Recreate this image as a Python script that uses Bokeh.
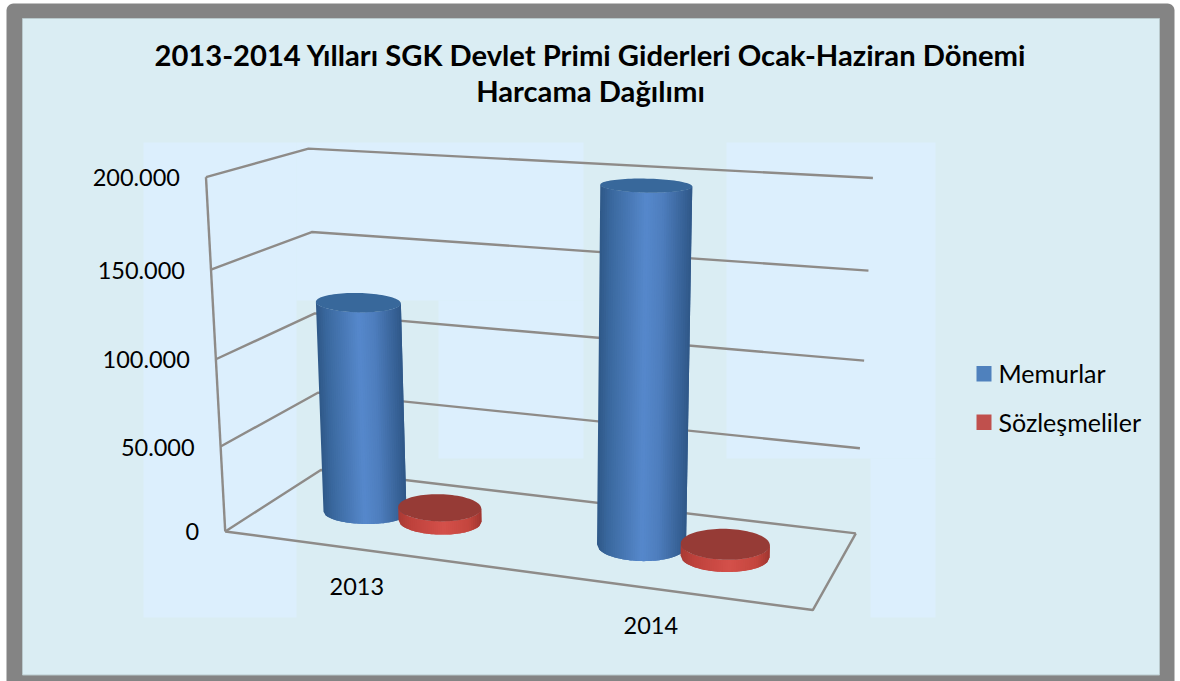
import numpy as np
from bokeh.core.properties import value
from bokeh.embed import file_html
from bokeh.models import Range1d
from bokeh.plotting import figure
from bokeh.resources import INLINE

# ---- chart data -------------------------------------------------------
categories = ["2013", "2014"]
series_names = ["Memurlar", "Sözleşmeliler"]
memurlar = [124500, 199000]
sozlesmeliler = [8000, 7000]
tick_values = [0, 50000, 100000, 150000, 200000]
tick_labels = ["0", "50.000", "100.000", "150.000", "200.000"]
title_lines = ["2013-2014 Yılları SGK Devlet Primi Giderleri Ocak-Haziran Dönemi",
               "Harcama Dağılımı"]
VMAX = 200000.0

# ---- camera calibration: box corners (u, depth, value fraction) -> screen
calib = [
    (0, 0, 1.00, 206, 176), (0, 0, .75, 211, 269.5), (0, 0, .5, 216, 358.5), (0, 0, .25, 220, 446), (0, 0, 0, 223.5, 531),
    (0, 1, 1.00, 307.5, 148), (0, 1, .75, 310.5, 232), (0, 1, .5, 314, 312.7), (0, 1, .25, 318, 393), (0, 1, 0, 321, 469),
    (1, 1, 1.00, 872, 177), (1, 1, .75, 868, 271), (1, 1, .5, 864, 360), (1, 1, .25, 860, 448), (1, 1, 0, 855, 532),
    (1, 0, 0, 812, 610),
]
A = []
for u, d, v, sx, sy in calib:
    A.append([u, d, v, 1, 0, 0, 0, 0, -sx * u, -sx * d, -sx * v, -sx])
    A.append([0, 0, 0, 0, u, d, v, 1, -sy * u, -sy * d, -sy * v, -sy])
P = np.linalg.svd(np.array(A, float))[2][-1].reshape(3, 4)


def project(u, d, val):
    q = P @ np.array([u, d, val / VMAX, 1.0])
    return q[0] / q[2], q[1] / q[2]


def unproject_floor(sx, sy):
    q = np.linalg.solve(P[:, [0, 1, 3]], np.array([sx, sy, 1.0]))
    return q[0] / q[2], q[1] / q[2]


# ---- page -------------------------------------------------------------
p = figure(width=1180, height=681, x_range=Range1d(0, 1180), y_range=Range1d(681, 0),
           x_axis_location=None, y_axis_location=None, toolbar_location=None,
           output_backend="svg", min_border=0, margin=(0, 0, 0, 0),
           background_fill_color="white", border_fill_color="white", outline_line_color=None)
p.grid.visible = False


def rounded(l, r, t, b, rad):
    xs, ys = [], []
    for cx, cy, a0 in [(l + rad, t + rad, 180), (r - rad, t + rad, 270), (r - rad, b - rad, 0), (l + rad, b - rad, 90)]:
        a = np.radians(np.linspace(a0, a0 + 90, 8))
        xs += list(cx + rad * np.cos(a))
        ys += list(cy + rad * np.sin(a))
    return xs, ys


fx, fy = rounded(6, 1174, 3, 700, 7)
p.patch(fx, fy, fill_color="#848484", line_color=None)
p.quad(left=[22], right=[1159], top=[18], bottom=[674.5], fill_color="#daedf3", line_color="#b9c9cc", line_width=1)

LIGHT = "#dceffd"
p.quad(left=[143, 296, 438, 726, 870], right=[296, 583, 583, 935, 935],
       top=[142, 142, 300, 142, 458], bottom=[617, 300, 458, 458, 617],
       fill_color=LIGHT, line_color=None)

# ---- walls / grid -----------------------------------------------------
GRID = "#8e8b88"
LW = 2.4
for tv in tick_values:
    a, b, c = project(0, 0, tv), project(0, 1, tv), project(1, 1, tv)
    p.line([a[0], b[0], c[0]], [a[1], b[1], c[1]], line_color=GRID, line_width=LW)
a, b = project(0, 0, 0), project(0, 0, VMAX)
p.line([a[0], b[0]], [a[1], b[1]], line_color=GRID, line_width=LW)
a, b, c = project(0, 0, 0), project(1, 0, 0), project(1, 1, 0)
p.line([a[0], b[0], c[0]], [a[1], b[1], c[1]], line_color=GRID, line_width=LW)


# ---- cylinders --------------------------------------------------------
def mix(stops, t):
    ts = [s[0] for s in stops]
    rgb = [np.interp(t, ts, [s[1][i] for s in stops]) for i in range(3)]
    return "#%02x%02x%02x" % tuple(int(round(c)) for c in rgb)


BLUE = [(0, (47, 88, 136)), (.12, (58, 104, 158)), (.5, (86, 136, 204)), (.68, (78, 126, 190)), (1, (47, 88, 136))]
RED = [(0, (168, 58, 52)), (.15, (190, 66, 60)), (.55, (212, 80, 74)), (.85, (196, 70, 62)), (1, (160, 54, 48))]
TILT = 0.02


def cylinder(base, val, bot_axes, top_axes, stops, top_color, n=40):
    u, d = unproject_floor(*base)
    bx, by = project(u, d, 0)
    tx, ty = project(u, d, val)
    frac = np.linspace(0, 1, n + 1)
    ang = np.arccos(1 - 2 * frac)

    def arc(cx, cy, axes):
        hw, hh = axes
        ex = cx - hw * np.cos(ang)
        ey = cy + hh * np.sin(ang) + TILT * (ex - cx)
        return ex, ey

    x0, y0 = arc(tx, ty, top_axes)
    x1, y1 = arc(bx, by, bot_axes)
    xs, ys, cols = [], [], []
    for i in range(n):
        j = min(i + 2, n)  # each strip runs under the next one, so no seam shows
        xs.append(list(x0[i:j + 1]) + list(x1[i:j + 1][::-1]))
        ys.append(list(y0[i:j + 1]) + list(y1[i:j + 1][::-1]))
        cols.append(mix(stops, (i + .5) / n))
    p.patches(xs, ys, fill_color=cols, line_color=None)
    a = np.linspace(0, 2 * np.pi, 90)
    hw, hh = top_axes
    ex = tx + hw * np.cos(a)
    ey = ty + hh * np.sin(a) + TILT * hw * np.cos(a)
    p.patch(list(ex), list(ey), fill_color=top_color, line_color=None)


TOP_BLUE = "#38689b"
TOP_RED = "#963b36"
cylinder((364.5, 512), memurlar[0], (41.5, 11.5), (42.5, 9.7), BLUE, TOP_BLUE)
cylinder((439.5, 520.5), sozlesmeliler[0], (41.5, 13.6), (41.5, 13.6), RED, TOP_RED)
cylinder((641, 545), memurlar[1], (44.5, 15.6), (46, 7), BLUE, TOP_BLUE)
cylinder((724.5, 556), sozlesmeliler[1], (44.5, 15.5), (44.5, 15.5), RED, TOP_RED)

# ---- texts ------------------------------------------------------------
FONT = value("Lato")
p.text([590, 590], [53.5, 90], text=title_lines, text_font=FONT, text_font_style="bold",
       text_font_size="29.2px", text_align="center", text_baseline="middle", text_color="#000000")
for tv, lab in zip(tick_values, tick_labels):
    x, y = project(0, 0, tv)
    p.text([x - 26], [y + 0.5], text=[lab], text_font=FONT, text_font_size="23.5px",
           text_align="right", text_baseline="middle", text_color="#000000")
for uc, lab in zip([0.245, 0.747], categories):
    x, y = project(uc, 0, 0)
    p.text([x], [y + 37], text=[lab], text_font=FONT, text_font_size="23.5px",
           text_align="center", text_baseline="middle", text_color="#000000")

p.quad(left=[976, 976], right=[991, 991], top=[365.5, 414], bottom=[381, 429.5],
       fill_color=["#4f81bd", "#c0504d"], line_color=None)
p.text([998, 998], [372.5, 421.5], text=series_names, text_font=FONT, text_font_size="25px",
       text_align="left", text_baseline="middle", text_color="#000000")

open("out.html", "w").write(file_html(p, INLINE))
